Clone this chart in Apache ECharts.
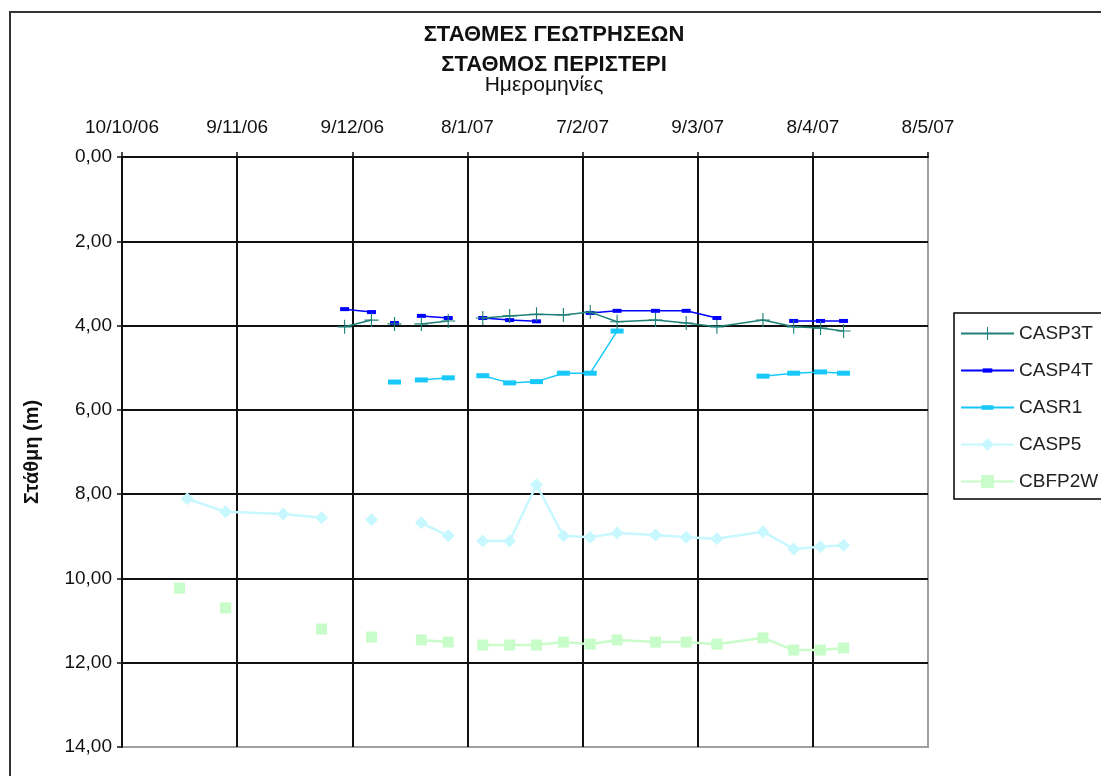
<!DOCTYPE html>
<html>
<head>
<meta charset="utf-8">
<script src="https://cdn.jsdelivr.net/npm/echarts@6/dist/echarts.min.js"></script>
<style>
    html, body {margin:0;padding:0;background:#ffffff;}
    #chart {width:1101px;height:776px;}
</style>
</head>
<body>
<div id="chart"></div>
<script>
    // measurement dates (null rows = empty rows in the sheet, they break the lines)
    var dates = ['2006-10-25', '2006-10-27', '2006-11-06', '2006-11-21', '2006-12-01',
        '2006-12-07', '2006-12-14', '2006-12-17', '2006-12-20', '2006-12-23',
        '2006-12-27', '2007-01-03', '2007-01-08', '2007-01-12', '2007-01-19',
        '2007-01-26', '2007-02-02', '2007-02-09', '2007-02-16', '2007-02-26',
        '2007-03-06', '2007-03-14', '2007-03-26', '2007-04-03', '2007-04-10', '2007-04-16'];

    var casp3t = [null, null, null, null, null, 4.03, 3.87, null, 3.96, null,
        3.96, 3.89, null, 3.82, 3.77, 3.73, 3.75, 3.68, 3.91, 3.87,
        3.94, 4.03, 3.87, 4.03, 4.06, 4.13];
    var casp4t = [null, null, null, null, null, 3.61, 3.68, null, 3.94, null,
        3.77, 3.82, null, 3.82, 3.87, 3.90, null, 3.70, 3.65, 3.65,
        3.65, 3.82, null, 3.89, 3.89, 3.89];
    var casr1 = [null, null, null, null, null, null, null, null, 5.34, null,
        5.29, 5.24, null, 5.19, 5.36, 5.33, 5.13, 5.13, 4.13, null,
        null, null, 5.20, 5.13, 5.10, 5.13];
    var casp5 = [null, 8.11, 8.42, 8.47, 8.56, null, 8.61, null, null, null,
        8.68, 8.99, null, 9.11, 9.11, 7.78, 8.99, 9.02, 8.92, 8.97,
        9.02, 9.06, 8.89, 9.30, 9.25, 9.21];
    var cbfp2w = [10.23, null, 10.70, null, 11.20, null, 11.39, null, null, null,
        11.46, 11.51, null, 11.58, 11.58, 11.58, 11.51, 11.56, 11.46, 11.51,
        11.51, 11.56, 11.41, 11.70, 11.70, 11.65];

    var startDate = '2006-10-10';   // first x tick, ticks every 30 days
    var dayMs = 86400000;
    var t0 = Date.parse(startDate);

    var font = '"Liberation Sans", Arial, sans-serif';

    function toPairs(values) {
        return dates.map(function (d, i) {
            var day = (Date.parse(d) - t0) / dayMs;
            return [day, values[i] == null ? '-' : values[i]];
        });
    }

    function dayLabel(v) {
        var dt = new Date(t0 + v * dayMs);
        return dt.getUTCDate() + '/' + (dt.getUTCMonth() + 1) + '/' + String(dt.getUTCFullYear()).slice(2);
    }

    // dash markers: the leading moveTo's fix a square box so the dash keeps its shape
    var dashSmall = 'path://M0,0M12,12M1.5,4h9v4h-9z';
    var dashWide = 'path://M0,0M14,14M0.5,4.5h13v5h-13z';
    var plusMark = 'path://M9.2,0h1.6v20h-1.6z M0,9.2h20v1.6h-20z';

    var myChart = echarts.init(document.getElementById('chart'));

    var option = {
        animation: false,
        backgroundColor: '#ffffff',
        textStyle: {fontFamily: font},
        graphic: [{
            type: 'rect',
            silent: true,
            z: -10,
            shape: {x: 10, y: 12, width: 1200, height: 900},
            style: {fill: 'none', stroke: '#333333', lineWidth: 2}
        }],
        title: [
            {
                text: 'ΣΤΑΘΜΕΣ ΓΕΩΤΡΗΣΕΩΝ\nΣΤΑΘΜΟΣ ΠΕΡΙΣΤΕΡΙ',
                left: 549,
                top: 15,
                textAlign: 'center',
                textStyle: {fontFamily: font, fontSize: 22, fontWeight: 'bold', color: '#111', lineHeight: 30}
            },
            {
                text: 'Ημερομηνίες',
                left: 539,
                top: 70,
                textAlign: 'center',
                textStyle: {fontFamily: font, fontSize: 21, fontWeight: 'normal', color: '#111'}
            }
        ],
        legend: {
            orient: 'vertical',
            left: 954,
            top: 313,
            padding: [11, 10, 8, 6],
            itemWidth: 53,
            itemHeight: 16,
            itemGap: 18,
            borderColor: '#000',
            borderWidth: 1.5,
            textStyle: {fontFamily: font, fontSize: 19, color: '#222'},
            data: ['CASP3T', 'CASP4T', 'CASR1', 'CASP5', 'CBFP2W']
        },
        grid: {
            left: 122,
            top: 157,
            right: 173,
            bottom: 29,
            show: true,
            borderColor: '#a0a0a0',
            borderWidth: 2
        },
        xAxis: {
            type: 'value',
            position: 'top',
            min: 0,
            max: 210,
            interval: 30,
            axisLine: {show: true, lineStyle: {color: '#111', width: 2}},
            axisTick: {show: true, length: 5, lineStyle: {color: '#111', width: 1.5}},
            axisLabel: {margin: 20, fontSize: 19, color: '#111', fontFamily: font, formatter: dayLabel},
            splitLine: {show: true, showMinLine: false, showMaxLine: false, lineStyle: {color: '#111', width: 2}}
        },
        yAxis: {
            type: 'value',
            inverse: true,
            min: 0,
            max: 14,
            interval: 2,
            name: 'Στάθμη (m)',
            nameLocation: 'middle',
            nameGap: 80,
            nameRotate: 90,
            nameTextStyle: {fontFamily: font, fontSize: 20, fontWeight: 'bold', color: '#111'},
            axisLine: {show: true, lineStyle: {color: '#111', width: 2}},
            axisTick: {show: true, length: 5, lineStyle: {color: '#111', width: 1.5}},
            axisLabel: {
                margin: 10, fontSize: 19, color: '#111', fontFamily: font,
                formatter: function (v) { return v.toFixed(2).replace('.', ','); }
            },
            splitLine: {show: true, showMinLine: false, showMaxLine: false, lineStyle: {color: '#111', width: 2}}
        },
        series: [
            {
                name: 'CASP3T',
                type: 'line',
                data: toPairs(casp3t),
                symbol: plusMark,
                symbolSize: 14,
                showAllSymbol: true,
                color: '#1f8077',
                lineStyle: {width: 1.5},
                z: 5
            },
            {
                name: 'CASP4T',
                type: 'line',
                data: toPairs(casp4t),
                symbol: dashSmall,
                symbolSize: 12,
                showAllSymbol: true,
                color: '#0000ff',
                lineStyle: {width: 1.5},
                z: 4
            },
            {
                name: 'CASR1',
                type: 'line',
                data: toPairs(casr1),
                symbol: dashWide,
                symbolSize: 14,
                showAllSymbol: true,
                color: '#18c8f8',
                lineStyle: {width: 1.5},
                z: 3
            },
            {
                name: 'CASP5',
                type: 'line',
                data: toPairs(casp5),
                symbol: 'diamond',
                symbolSize: 13,
                showAllSymbol: true,
                color: '#c8f8ff',
                lineStyle: {width: 2.5},
                z: 2
            },
            {
                name: 'CBFP2W',
                type: 'line',
                data: toPairs(cbfp2w),
                symbol: 'rect',
                symbolSize: 11,
                showAllSymbol: true,
                color: '#c8fcc8',
                lineStyle: {width: 2.5},
                z: 2
            }
        ]
    };

    myChart.setOption(option);
</script>
</body>
</html>
